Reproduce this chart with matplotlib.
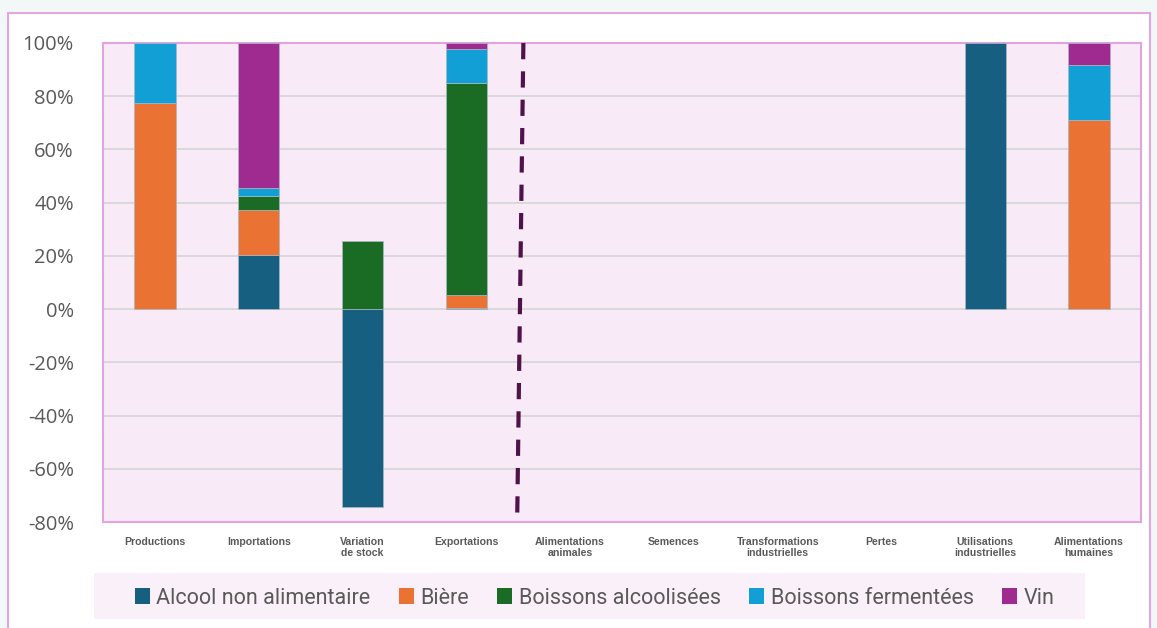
import numpy as np
import matplotlib.pyplot as plt
from matplotlib import patches

categories = ["Productions", "Importations", "Variation\nde stock", "Exportations",
              "Alimentations\nanimales", "Semences", "Transformations\nindustrielles",
              "Pertes", "Utilisations\nindustrielles", "Alimentations\nhumaines"]

# shares in % per product, one list per series
alcool = [0, 20.3, -74.4, 0.6, 0, 0, 0, 0, 100, 0]
biere = [77.5, 16.9, 0, 4.7, 0, 0, 0, 0, 0, 71.0]
boissons_alc = [0, 5.4, 25.7, 79.8, 0, 0, 0, 0, 0, 0]
boissons_ferm = [22.5, 2.9, 0, 12.6, 0, 0, 0, 0, 0, 20.6]
vin = [0, 54.5, 0, 2.3, 0, 0, 0, 0, 0, 8.4]

series = [("Alcool non alimentaire", alcool, "#175f80"),
          ("Bière", biere, "#ea7333"),
          ("Boissons alcoolisées", boissons_alc, "#1a6b24"),
          ("Boissons fermentées", boissons_ferm, "#119fd6"),
          ("Vin", vin, "#a02b90")]

yticks = [-80, -60, -40, -20, 0, 20, 40, 60, 80, 100]

W, H = 1157, 628
fig = plt.figure(figsize=(W / 100, H / 100), dpi=100)
fig.patch.set_facecolor("#f2f7f7")

# white card behind the chart
card = patches.Rectangle((8 / W, -0.05), (1150 - 8) / W, 1 - 13 / H + 0.05,
                         transform=fig.transFigure, facecolor="white",
                         edgecolor="#e4a6e0", linewidth=1.5, zorder=-5)
fig.patches.append(card)
# legend band
band = patches.Rectangle((94 / W, 1 - 619 / H), (1085 - 94) / W, 46 / H,
                         transform=fig.transFigure, facecolor="#faf0f9",
                         edgecolor="none", zorder=-4)
fig.patches.append(band)

ax = fig.add_axes([103 / W, 1 - 522 / H, (1141 - 103) / W, (522 - 43) / H])
ax.set_facecolor("#f8eaf7")

x = np.arange(len(categories))
pos_base = np.zeros(len(categories))
neg_base = np.zeros(len(categories))
for name, vals, col in series:
    vals = np.array(vals, dtype=float)
    bottoms = np.where(vals >= 0, pos_base, neg_base)
    nz = vals != 0
    ax.bar(x[nz], vals[nz], width=0.4, bottom=bottoms[nz], color=col, label=name,
           edgecolor="#a9b8c6", linewidth=0.5, zorder=3)
    pos_base += np.clip(vals, 0, None)
    neg_base += np.clip(vals, None, 0)

# dashed separator between resources and uses (drawn top -> bottom)
ax.plot([3.55, 3.49], [100, -80], color="#4f1249", linewidth=3,
        linestyle=(0, (3.9, 2.9)), zorder=4, clip_on=False)

ax.set_xlim(-0.5, len(categories) - 0.5)
ax.set_ylim(-80, 100)
ax.set_yticks(yticks)
ax.set_yticklabels([f"{v}%" for v in yticks], fontsize=14.5, color="#595959",
                   fontfamily="Open Sans")
ax.set_xticks(x)
ax.set_xticklabels(categories, fontsize=7.6, fontweight="bold", color="#595959",
                   fontfamily="Liberation Sans", linespacing=1.05)
ax.tick_params(axis="both", length=0)
ax.tick_params(axis="y", pad=21)
ax.tick_params(axis="x", pad=11)
ax.grid(axis="y", color="#d9d9d9", linewidth=1.4, zorder=1)
for s in ax.spines.values():
    s.set_color("#e2a3de")
    s.set_linewidth(1.5)

leg = fig.legend(loc="center", bbox_to_anchor=(125 / W, 1 - 621 / H, (1064 - 125) / W, 46 / H),
                 mode="expand", ncol=5, frameon=False,
                 prop={"family": "Roboto", "size": 15.5}, labelcolor="#595959",
                 handlelength=0.7, handleheight=0.7, handletextpad=0.3,
                 borderaxespad=0, borderpad=0.45, columnspacing=1.0)
for h in leg.legend_handles:
    h.set_edgecolor("none")

fig.savefig("out.png", dpi=100, facecolor=fig.get_facecolor())
